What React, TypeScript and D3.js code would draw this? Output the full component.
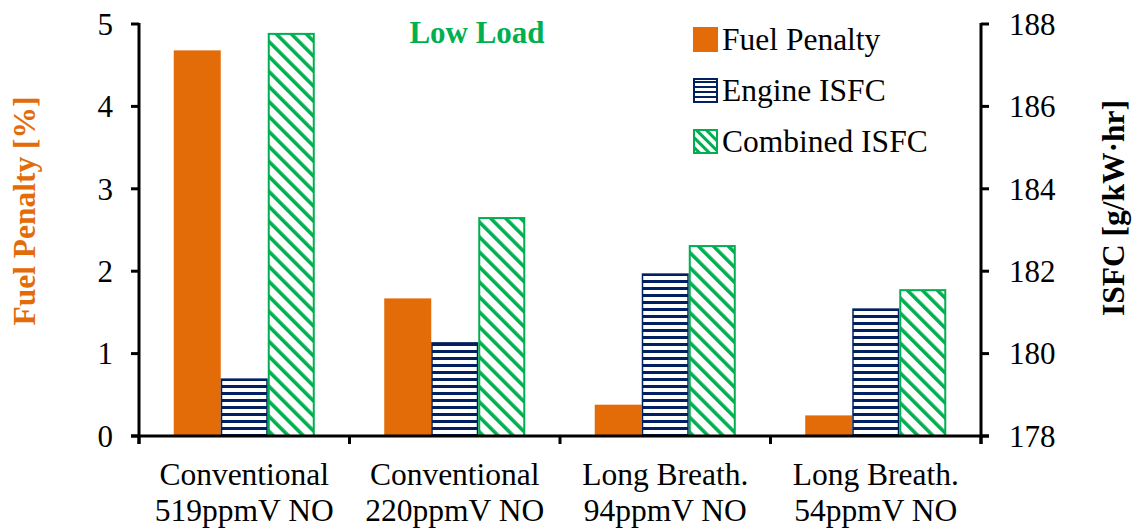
import React from "react";
import * as d3 from "d3";

const categoriesLine1 = ["Conventional", "Conventional", "Long Breath.", "Long Breath."];
const categoriesLine2 = ["519ppmV NO", "220ppmV NO", "94ppmV NO", "54ppmV NO"];
const fuelPenalty = [4.68, 1.67, 0.38, 0.25];
const engineISFC = [179.38, 180.26, 181.93, 181.08];
const combinedISFC = [187.76, 183.29, 182.61, 181.54];
const leftTicks = [0, 1, 2, 3, 4, 5];
const rightTicks = [178, 180, 182, 184, 186, 188];
const seriesNames = ["Fuel Penalty", "Engine ISFC", "Combined ISFC"];

const W = 1139;
const H = 529;
const M = { left: 139, right: 981, top: 24, bottom: 436 };
const ORANGE = "#E36C09";
const NAVY = "#002060";
const GREEN = "#00B050";
const FONT = "'Liberation Serif', 'Times New Roman', serif";

export default function App() {
  const x = d3
    .scaleBand<number>()
    .domain(d3.range(categoriesLine1.length))
    .range([M.left, M.right])
    .paddingInner(0.33)
    .paddingOuter(0.165);
  const xs = d3.scaleBand<number>().domain([0, 1, 2]).range([0, x.bandwidth()]);
  const yL = d3.scaleLinear().domain([0, 5]).range([M.bottom, M.top]);
  const yR = d3.scaleLinear().domain([178, 188]).range([M.bottom, M.top]);
  const step = (M.right - M.left) / categoriesLine1.length;
  const boundaries = d3.range(categoriesLine1.length + 1).map((i) => M.left + i * step);

  return (
    <svg width={W} height={H} style={{ position: "absolute", left: 0, top: 0, background: "#fff" }}>
      <defs>
        <pattern id="hstripe" patternUnits="userSpaceOnUse" width={8} height={7}>
          <rect width={8} height={7} fill="#fff" />
          <rect y={0} width={8} height={3} fill={NAVY} />
        </pattern>
        <pattern id="dstripe" patternUnits="userSpaceOnUse" width={10.6} height={10.6} patternTransform="rotate(-45)">
          <rect width={10.6} height={10.6} fill="#fff" />
          <rect x={0} y={0} width={3.6} height={10.6} fill={GREEN} />
        </pattern>
        <pattern id="hstripeL" patternUnits="userSpaceOnUse" width={6} height={5} y={1}>
          <rect width={6} height={5} fill="#fff" />
          <rect y={0} width={6} height={2} fill={NAVY} />
        </pattern>
        <pattern id="dstripeL" patternUnits="userSpaceOnUse" width={7} height={7} patternTransform="rotate(-45)">
          <rect width={7} height={7} fill="#fff" />
          <rect x={0} y={0} width={3} height={7} fill={GREEN} />
        </pattern>
      </defs>

      {/* bars */}
      {categoriesLine1.map((_, i) => {
        const x0 = x(i)!;
        const bw = xs.bandwidth();
        return (
          <g key={i}>
            <rect
              x={x0 + xs(0)!}
              y={yL(fuelPenalty[i])}
              width={bw}
              height={yL(0) - yL(fuelPenalty[i])}
              fill={ORANGE}
            />
            <rect
              x={x0 + xs(1)! + 0.75}
              y={yR(engineISFC[i])}
              width={bw - 1.5}
              height={yR(178) - yR(engineISFC[i])}
              fill="url(#hstripe)"
              stroke={NAVY}
              strokeWidth={1.5}
            />
            <rect
              x={x0 + xs(2)! + 1}
              y={yR(combinedISFC[i])}
              width={bw - 2}
              height={yR(178) - yR(combinedISFC[i])}
              fill="url(#dstripe)"
              stroke={GREEN}
              strokeWidth={2}
            />
          </g>
        );
      })}

      {/* left axis */}
      <line x1={M.left} x2={M.left} y1={M.top - 1} y2={M.bottom + 8} stroke="#000" strokeWidth={3} />
      {leftTicks.map((t) => (
        <g key={t}>
          <line x1={M.left - 8} x2={M.left} y1={yL(t)} y2={yL(t)} stroke="#000" strokeWidth={3} />
          <text x={113} y={yL(t)} dy="0.35em" textAnchor="end" fontFamily={FONT} fontSize={31}>
            {t}
          </text>
        </g>
      ))}

      {/* right axis */}
      <line x1={M.right} x2={M.right} y1={M.top - 1} y2={M.bottom + 8} stroke="#000" strokeWidth={3} />
      {rightTicks.map((t) => (
        <g key={t}>
          <line x1={M.right} x2={M.right + 8} y1={yR(t)} y2={yR(t)} stroke="#000" strokeWidth={3} />
          <text x={1009} y={yR(t)} dy="0.35em" textAnchor="start" fontFamily={FONT} fontSize={31}>
            {t}
          </text>
        </g>
      ))}

      {/* bottom axis */}
      <line x1={M.left - 8} x2={M.right + 8} y1={M.bottom} y2={M.bottom} stroke="#000" strokeWidth={3} />
      {boundaries.map((b, i) => (
        <line key={i} x1={b} x2={b} y1={M.bottom} y2={M.bottom + 8} stroke="#000" strokeWidth={3} />
      ))}
      {categoriesLine1.map((c, i) => {
        const cx = x(i)! + x.bandwidth() / 2;
        return (
          <text key={i} x={cx} textAnchor="middle" fontFamily={FONT} fontSize={31.5}>
            <tspan x={cx} y={485}>{c}</tspan>
            <tspan x={cx} y={521}>{categoriesLine2[i]}</tspan>
          </text>
        );
      })}

      {/* axis titles */}
      <text
        transform={`translate(35,211) rotate(-90)`}
        textAnchor="middle"
        fontFamily={FONT}
        fontSize={31.5}
        fontWeight="bold"
        fill={ORANGE}
      >
        Fuel Penalty [%]
      </text>
      <text
        transform={`translate(1124,208) rotate(-90)`}
        textAnchor="middle"
        fontFamily={FONT}
        fontSize={31.5}
        fontWeight="bold"
        fill="#000"
      >
        ISFC [g/kW·hr]
      </text>

      {/* title */}
      <text x={477} y={43} textAnchor="middle" fontFamily={FONT} fontSize={31} fontWeight="bold" fill={GREEN}>
        Low Load
      </text>

      {/* legend */}
      {seriesNames.map((s, i) => {
        const base = 50 + i * 51;
        const top = base - 23;
        return (
          <g key={s}>
            {i === 0 && <rect x={693} y={top} width={25} height={25} fill={ORANGE} />}
            {i === 1 && (
              <rect x={694} y={top + 1} width={23} height={23} fill="url(#hstripeL)" stroke={NAVY} strokeWidth={2} />
            )}
            {i === 2 && (
              <rect x={694} y={top + 1} width={23} height={23} fill="url(#dstripeL)" stroke={GREEN} strokeWidth={2} />
            )}
            <text x={722} y={base} fontFamily={FONT} fontSize={31.5}>
              {s}
            </text>
          </g>
        );
      })}
    </svg>
  );
}
